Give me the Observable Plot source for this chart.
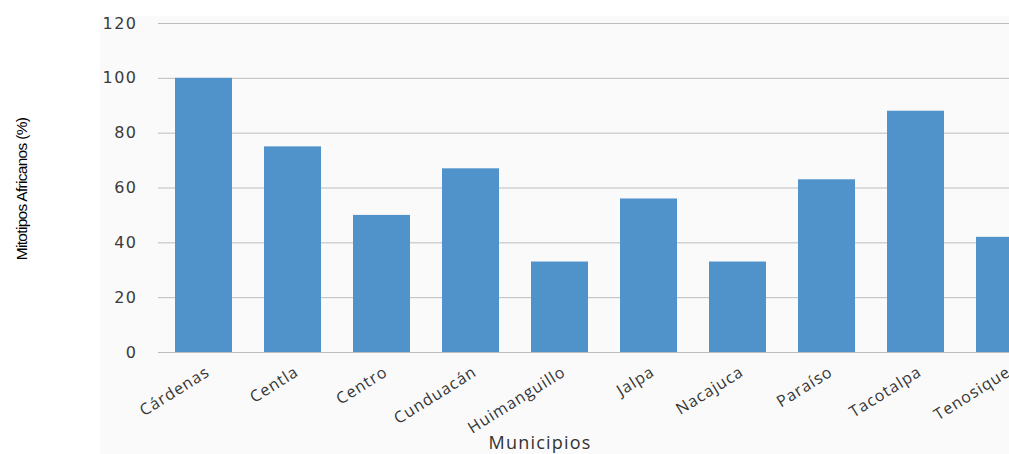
<!DOCTYPE html>
<html>
<head>
<meta charset="utf-8">
<script src="https://cdn.jsdelivr.net/npm/d3@7"></script>
<script src="https://cdn.jsdelivr.net/npm/@observablehq/plot@0.6"></script>
<style>
  html, body { margin: 0; padding: 0; background: #ffffff; }
  #wrap { position: relative; width: 1009px; height: 454px; overflow: hidden; background: #ffffff; }
  #panel { position: absolute; left: 100px; top: 16px; width: 909px; height: 438px; background: #fafafa; }
  #chart { position: absolute; left: 0; top: 0; }
  #ylab { position: absolute; left: 22px; top: 189px; transform: translate(-50%, -50%) rotate(-90deg);
          font-family: "Liberation Sans", Arial, sans-serif; font-size: 15.5px; letter-spacing: -0.7px;
          color: #000; white-space: nowrap; }
  #xlab { position: absolute; left: 540px; top: 442px; transform: translate(-50%, -50%);
          font-family: "Open Sans", sans-serif; font-size: 18px; letter-spacing: 1.2px; color: #333; white-space: nowrap; }
</style>
</head>
<body>
<div id="wrap">
  <div id="panel"></div>
  <div id="chart"></div>
  <div id="ylab">Mitotipos Africanos (%)</div>
  <div id="xlab">Municipios</div>
</div>
<script>
const municipios = ["Cárdenas", "Centla", "Centro", "Cunduacán", "Huimanguillo", "Jalpa", "Nacajuca", "Paraíso", "Tacotalpa", "Tenosique"];
const valores = [100, 75, 50, 67, 33, 56, 33, 63, 88, 42];
const yTicks = [0, 20, 40, 60, 80, 100, 120];

const data = municipios.map((m, i) => ({municipio: m, valor: valores[i]}));

const chart = Plot.plot({
  width: 1060,
  height: 454,
  marginLeft: 158,
  marginRight: 9,
  marginTop: 23,
  marginBottom: 102,
  style: {background: "transparent", maxWidth: "none", overflow: "visible"},
  x: {domain: municipios, range: [158, 1050.5], paddingInner: 0.36, paddingOuter: 0.18},
  y: {domain: [0, 120], ticks: yTicks},
  marks: [
    Plot.gridY(yTicks, {stroke: "#bdbdbd", strokeOpacity: 1, strokeWidth: 1}),
    Plot.ruleX([0], {x: () => 158, y1: 0, y2: 120, stroke: "#bdbdbd", strokeWidth: 1, frameAnchor: "left"}),
    Plot.barY(data, {x: "municipio", y: "valor", fill: "#5093cb"}),
    Plot.axisY(yTicks, {tickSize: 0, tickPadding: 21, fontFamily: "DejaVu Sans", fontSize: 16, fill: "#3a3a3a",
      label: null}),
    Plot.axisX({tickSize: 0, tickPadding: 18, tickRotate: -32, fontFamily: "Open Sans", fontSize: 16,
      fill: "#333", label: null, dx: 4}),
    Plot.ruleY([0], {stroke: "#bdbdbd", strokeWidth: 1})
  ]
});
chart.querySelectorAll('[aria-label="y-axis tick label"] text').forEach(t => t.style.letterSpacing = "1.5px");
chart.querySelectorAll('[aria-label="x-axis tick label"] text').forEach(t => t.style.letterSpacing = "1px");
document.getElementById("chart").appendChild(chart);
</script>
</body>
</html>
